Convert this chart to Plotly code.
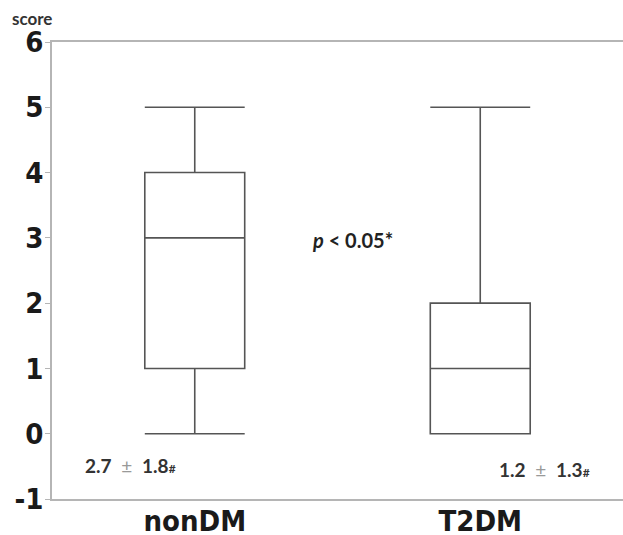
import plotly.graph_objects as go

categories = ["nonDM", "T2DM"]
lower_whisker = [0, 0]
q1_values = [1, 0]
median_values = [3, 1]
q3_values = [4, 2]
upper_whisker = [5, 5]
summary_texts = ["2.7 ± 1.8", "1.2 ± 1.3"]
y_ticks = [-1, 0, 1, 2, 3, 4, 5, 6]
y_tick_labels = ["-1", "0", "1", "2", "3", "4", "5", "6"]

fig = go.Figure()
fig.add_trace(go.Box(
    x=categories,
    q1=q1_values, median=median_values, q3=q3_values,
    lowerfence=lower_whisker, upperfence=upper_whisker,
    width=0.35, whiskerwidth=1,
    fillcolor="rgba(0,0,0,0)",
    line=dict(color="#555555", width=1.6),
    boxpoints=False, hoverinfo="skip", showlegend=False,
))

narrow = "DejaVu Sans Condensed, Liberation Sans Narrow, Liberation Sans, Arial"

fig.update_layout(
    width=623, height=535,
    margin=dict(l=52, r=0, t=42, b=36),
    plot_bgcolor="white", paper_bgcolor="white",
    xaxis=dict(
        type="category", range=[-0.5, 1.5], automargin=False,
        showline=True, mirror=True, linecolor="#b5b5b5", linewidth=1.5,
        ticks="", showgrid=False, zeroline=False,
        ticklabelstandoff=-5,
        tickfont=dict(family=narrow, size=29, color="#1a1a1a", weight="bold"),
    ),
    yaxis=dict(
        range=[-1, 6], tickvals=y_ticks, ticktext=y_tick_labels, automargin=False,
        showline=True, linecolor="#b5b5b5", linewidth=1.5,
        ticks="outside", ticklen=5, tickcolor="#b5b5b5", tickwidth=1,
        showgrid=False, zeroline=False,
        ticklabelstandoff=-4,
        tickfont=dict(family=narrow, size=29, color="#1a1a1a", weight="bold"),
    ),
)

ann_font = dict(family="Lato, Open Sans, sans-serif", size=19, color="#333333")
positions = [(0.137, -0.48), (0.863, -0.55)]
for txt, (px, py) in zip(summary_texts, positions):
    a, b = txt.split("±")
    fig.add_annotation(
        xref="paper", yref="y", x=px, y=py, showarrow=False,
        xanchor="center", yanchor="middle",
        text=f"<b>{a.strip()}</b>&nbsp; <span style='color:#999999'>±</span>&nbsp; <b>{b.strip()}</b><b><span style='font-size:12px'>#</span></b>",
        font=ann_font,
    )

fig.add_annotation(
    xref="paper", yref="y", x=0.527, y=2.97, showarrow=False,
    xanchor="center", yanchor="middle",
    text="<b><i>p</i> &lt; 0.05*</b>", font=dict(family="Lato, Open Sans, sans-serif", size=20, color="#222222"),
)
fig.add_annotation(
    xref="paper", yref="paper", x=-0.035, y=1.052, showarrow=False,
    xanchor="center", yanchor="middle",
    text="<b>score</b>", font=dict(family="Lato, Open Sans, sans-serif", size=17, color="#333333"),
)

fig.write_html("out.html", config={"displayModeBar": False},
               post_script="document.body.style.margin='0';")
